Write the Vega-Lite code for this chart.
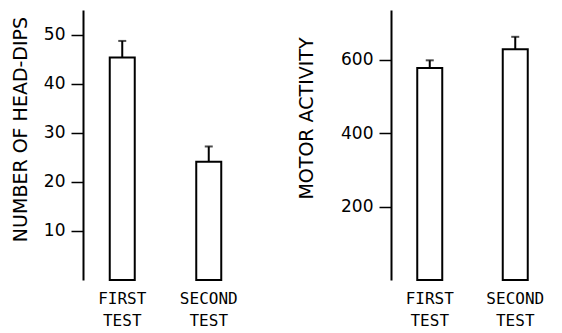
{
  "$schema": "https://vega.github.io/schema/vega-lite/v6.json",
  "padding": {"left": 10, "top": 10, "right": 0, "bottom": 0},
  "spacing": 40,
  "config": {
    "view": {"stroke": null},
    "font": "DejaVu Sans",
    "axis": {
      "grid": false,
      "domainColor": "black",
      "domainWidth": 2,
      "tickColor": "black",
      "tickWidth": 1.5,
      "tickSize": 12,
      "labelFont": "DejaVu Sans",
      "labelFontSize": 17,
      "labelColor": "black",
      "labelPadding": 6,
      "titleFont": "DejaVu Sans",
      "titleFontSize": 19,
      "titleFontWeight": "normal",
      "titleColor": "black"
    }
  },
  "datasets": {
    "dips": [
      {"test": "FIRST TEST", "mean": 45.3, "upper": 48.7},
      {"test": "SECOND TEST", "mean": 24.1, "upper": 27.2}
    ],
    "motor": [
      {"test": "FIRST TEST", "mean": 577, "upper": 598},
      {"test": "SECOND TEST", "mean": 628, "upper": 662}
    ]
  },
  "hconcat": [
    {
      "width": 173,
      "height": 270,
      "data": {"name": "dips"},
      "encoding": {
        "x": {
          "field": "test",
          "type": "nominal",
          "sort": null,
          "scale": {"range": [-4, 169], "paddingInner": 0, "paddingOuter": 0},
          "axis": {
            "title": null,
            "ticks": false,
            "domain": false,
            "labelAngle": 0,
            "labelFont": "DejaVu Sans Mono",
            "labelFontSize": 16,
            "labelLineHeight": 22,
            "labelPadding": 10,
            "labelExpr": "split(datum.label, ' ')"
          }
        }
      },
      "layer": [
        {
          "mark": {"type": "bar", "fill": "white", "stroke": "black", "strokeWidth": 2, "width": 25},
          "encoding": {
            "y": {
              "field": "mean",
              "type": "quantitative",
              "scale": {"domain": [0, 55], "nice": false},
              "axis": {
                "values": [10, 20, 30, 40, 50],
                "title": "NUMBER OF HEAD-DIPS",
                "titleBaseline": "alphabetic",
                "titleX": -57,
                "titleY": 119
              }
            }
          }
        },
        {
          "mark": {"type": "rule", "color": "black", "strokeWidth": 2},
          "encoding": {"y": {"field": "mean", "type": "quantitative"}, "y2": {"field": "upper"}}
        },
        {
          "mark": {"type": "tick", "color": "black", "thickness": 2, "size": 8},
          "encoding": {"y": {"field": "upper", "type": "quantitative"}}
        },
        {
          "mark": {"type": "rule", "color": "black", "strokeWidth": 2},
          "encoding": {"y": {"datum": 0, "type": "quantitative"}}
        }
      ]
    },
    {
      "width": 169,
      "height": 270,
      "data": {"name": "motor"},
      "encoding": {
        "x": {
          "field": "test",
          "type": "nominal",
          "sort": null,
          "scale": {"range": [-4, 167], "paddingInner": 0, "paddingOuter": 0},
          "axis": {
            "title": null,
            "ticks": false,
            "domain": false,
            "labelAngle": 0,
            "labelFont": "DejaVu Sans Mono",
            "labelFontSize": 16,
            "labelLineHeight": 22,
            "labelPadding": 10,
            "labelExpr": "split(datum.label, ' ')"
          }
        }
      },
      "layer": [
        {
          "mark": {"type": "bar", "fill": "white", "stroke": "black", "strokeWidth": 2, "width": 25},
          "encoding": {
            "y": {
              "field": "mean",
              "type": "quantitative",
              "scale": {"domain": [0, 735], "nice": false},
              "axis": {
                "values": [200, 400, 600],
                "title": "MOTOR ACTIVITY",
                "titleBaseline": "alphabetic",
                "titleX": -79,
                "titleY": 108
              }
            }
          }
        },
        {
          "mark": {"type": "rule", "color": "black", "strokeWidth": 2},
          "encoding": {"y": {"field": "mean", "type": "quantitative"}, "y2": {"field": "upper"}}
        },
        {
          "mark": {"type": "tick", "color": "black", "thickness": 2, "size": 8},
          "encoding": {"y": {"field": "upper", "type": "quantitative"}}
        },
        {
          "mark": {"type": "rule", "color": "black", "strokeWidth": 2},
          "encoding": {"y": {"datum": 0, "type": "quantitative"}}
        }
      ]
    }
  ]
}
